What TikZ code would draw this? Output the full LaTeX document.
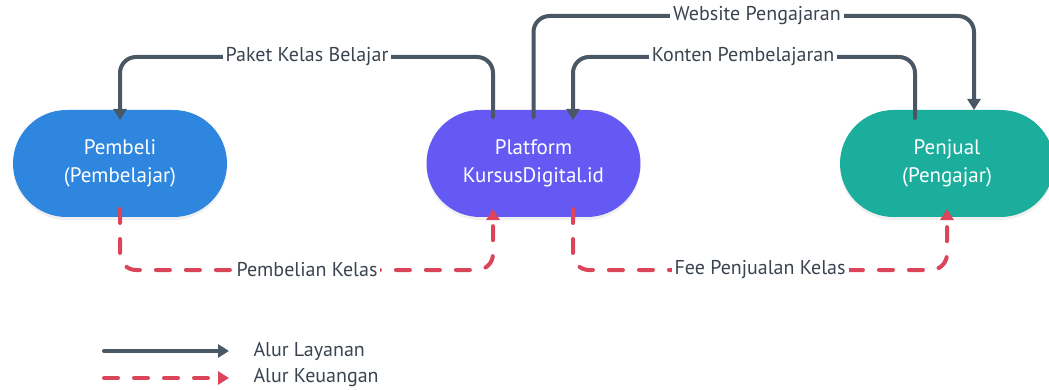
\documentclass[tikz,border=0pt]{standalone}
\usepackage{fontspec}
\setmainfont{PT Sans}
\usetikzlibrary{arrows.meta,shadows,shapes.misc}
\definecolor{svc}{RGB}{74,88,101}
\definecolor{fin}{RGB}{218,69,89}
\definecolor{buyer}{RGB}{46,134,222}
\definecolor{platf}{RGB}{100,90,243}
\definecolor{seller}{RGB}{27,174,156}
\definecolor{lbl}{RGB}{58,68,80}
\tikzset{
  party/.style={rounded rectangle, minimum width=214pt, minimum height=107pt,
    inner sep=0pt, outer sep=0pt,
    text=white, align=center, font=\fontsize{21}{28}\selectfont,
    drop shadow={opacity=0.12, shadow xshift=0pt, shadow yshift=-3pt}},
  service/.style={draw=svc, line width=4pt, rounded corners=16pt, line cap=round,
    -{Triangle[length=11pt,width=13pt]}},
  money/.style={draw=fin, line width=4pt, rounded corners=16pt, line cap=round,
    dash pattern=on 14pt off 16pt, -{Triangle[length=11pt,width=13pt]}},
  flowlabel/.style={fill=white, text=lbl, inner xsep=3pt, inner ysep=2pt,
    font=\fontsize{20}{22}\selectfont},
  legendtext/.style={text=lbl, anchor=west, font=\fontsize{20}{22}\selectfont}
}
\begin{document}
\begin{tikzpicture}[x=1pt,y=-1pt]
\useasboundingbox (0,0) rectangle (1049,390);

% participants
\node[party, fill=buyer]  (buyer)    at (120,163.5)   {Pembeli\\(Pembelajar)};
\node[party, fill=platf]  (platform) at (533.5,163.5) {Platform\\KursusDigital.id};
\node[party, fill=seller] (seller)   at (947,163.5)   {Penjual\\(Pengajar)};

% service flows
\draw[service] ([xshift=-40.5pt,yshift=-7pt]platform.north) |- (307,57) -| ([yshift=-10pt]buyer.north);
\node[flowlabel] at (307,57) {Paket Kelas Belajar};

\draw[service] ([yshift=-7pt]platform.north) |- (757,16) -| ([xshift=27pt]seller.north);
\node[flowlabel] at (757,16) {Website Pengajaran};

\draw[service] ([xshift=-32pt,yshift=-8pt]seller.north) |- (743,57) -| ([xshift=39.5pt,yshift=-10pt]platform.north);
\node[flowlabel] at (743,57) {Konten Pembelajaran};

% payment flows
\draw[money] ([yshift=8pt]buyer.south) |- (307,270) -| ([xshift=-40.5pt,yshift=8pt]platform.south);
\node[flowlabel] at (307,270) {Pembelian Kelas};

\draw[money] ([xshift=39.5pt,yshift=8pt]platform.south) |- (760,270) -| ([yshift=8pt]seller.south);
\node[flowlabel] at (760,270) {Fee Penjualan Kelas};

% legend
\coordinate (l1a) at (104,351);
\coordinate (l1b) at (229,351);
\coordinate (l2a) at (104,378);
\coordinate (l2b) at (229,378);
\draw[service] (l1a) -- (l1b);
\draw[money] (l2a) -- (l2b);
\node[legendtext] (t1) at (250,351) {Alur Layanan};
\node[legendtext] (t2) at (250,378) {Alur Keuangan};
\end{tikzpicture}
\end{document}
